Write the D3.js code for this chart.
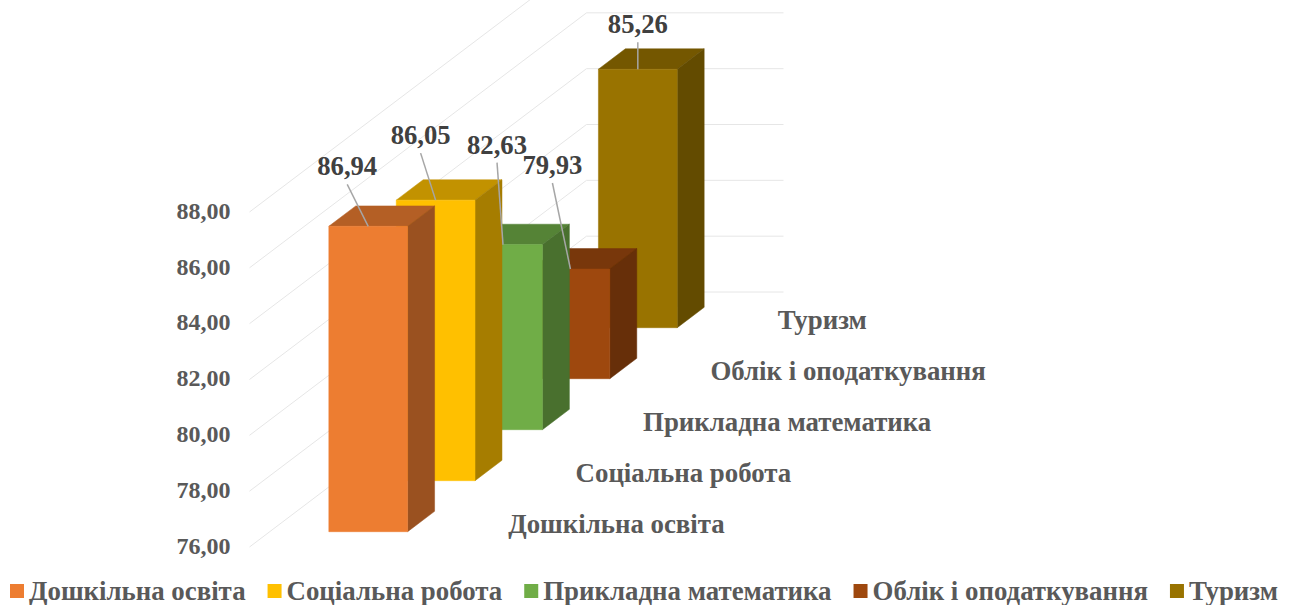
<!DOCTYPE html>
<html>
<head>
<meta charset="utf-8">
<style>
    html, body { margin: 0; background: #fff; overflow: hidden; }
    svg { display: block; font-family: "Liberation Serif", serif; font-weight: bold; }
</style>
<script src="https://cdn.jsdelivr.net/npm/d3@7"></script>
</head>
<body>
<div id="svg-container"></div>
<script>
const categories = ['Дошкільна освіта', 'Соціальна робота', 'Прикладна математика', 'Облік і оподаткування', 'Туризм'];
const values = [86.94, 86.05, 82.63, 79.93, 85.26];
const colors = ['#ED7D31', '#FFC000', '#70AD47', '#9E480E', '#997300'];
const yTicks = [76, 78, 80, 82, 84, 86, 88];

const wSvg = 1289, hSvg = 605;
const xWall = 249.5, yFloor = 547, yTop = 212;
const wFloor = 197, dFloor = 255, slant = 337 / 255;

// hand placed data labels, relative to the middle of the bar's front top edge
const labelShift = [[-21, -42], [-15, -47], [-6, -82], [-18, -86], [0, -27]];

const yScale = d3.scaleLinear().domain([76, 88]).range([yFloor, yTop]);
const xScale = d3.scaleBand().domain(['all']).range([0, wFloor]).paddingInner(0).paddingOuter(.75);
const depthScale = d3.scaleBand().domain(categories).range([0, dFloor]).paddingInner(.6).paddingOuter(.3);
const comma = d3.formatLocale({ decimal: ',', thousands: ' ', grouping: [3], currency: ['', ''] }).format('.2f');

// floor depth -> screen offset
const px = (x, depth) => xWall + x + depth * slant;
const py = (y, depth) => y - depth;
const shade = (color, k) => {
    const c = d3.rgb(color);
    return d3.rgb(c.r * k, c.g * k, c.b * k).formatHex();
};
const poly = pts => 'M' + pts.map(p => p.join(',')).join('L') + 'Z';

let svg = d3.select('#svg-container')
    .append('svg')
    .attr('width', wSvg)
    .attr('height', hSvg);

//#region gridlines + y axis
svg.append('g').selectAll('path')
    .data(yTicks)
    .enter()
    .append('path')
    .attr('d', d => `M${px(0, 0)},${yScale(d)}L${px(0, dFloor)},${py(yScale(d), dFloor)}L${px(wFloor, dFloor)},${py(yScale(d), dFloor)}`)
    .attr('fill', 'none')
    .attr('stroke', '#E6E6E6')
    .attr('stroke-width', 1);

let yAx = svg.append('g')
    .attr('transform', `translate(${xWall}, -1.5)`)
    .call(d3.axisLeft(yScale).tickValues(yTicks).tickSize(0).tickPadding(19).tickFormat(comma));
yAx.select('.domain').remove();
yAx.selectAll('text')
    .attr('fill', '#595959')
    .style('font-family', '"Liberation Serif", serif')
    .style('font-weight', 'bold')
    .style('font-size', '24px');
//#endregion

//#region bars, back to front
const bars = categories.map((name, i) => ({ name, value: values[i], color: colors[i], i }));
const x0 = xScale('all'), x1 = x0 + xScale.bandwidth();

let gBars = svg.selectAll('.bar')
    .data(bars.slice().reverse())
    .enter()
    .append('g')
    .classed('bar', true);

gBars.each(function (d) {
    const g = d3.select(this);
    const d0 = depthScale(d.name), d1 = d0 + depthScale.bandwidth();
    const yT = yScale(d.value), yB = yScale(76);
    const faces = [
        { k: .76, pts: [[px(x0, d0), py(yT, d0)], [px(x1, d0), py(yT, d0)], [px(x1, d1), py(yT, d1)], [px(x0, d1), py(yT, d1)]] },
        { k: .65, pts: [[px(x1, d0), py(yT, d0)], [px(x1, d1), py(yT, d1)], [px(x1, d1), py(yB, d1)], [px(x1, d0), py(yB, d0)]] },
        { k: 1, pts: [[px(x0, d0), py(yT, d0)], [px(x1, d0), py(yT, d0)], [px(x1, d0), py(yB, d0)], [px(x0, d0), py(yB, d0)]] }
    ];
    g.selectAll('path')
        .data(faces)
        .enter()
        .append('path')
        .attr('d', f => poly(f.pts))
        .attr('fill', f => shade(d.color, f.k))
        .attr('stroke', f => shade(d.color, f.k))
        .attr('stroke-width', .5);
});
//#endregion

//#region leader lines + data labels
const labelPos = d => {
    const d0 = depthScale(d.name);
    return [px((x0 + x1) / 2, d0), py(yScale(d.value), d0)];
};

svg.append('g').selectAll('line')
    .data(bars)
    .enter()
    .append('line')
    .attr('x1', d => labelPos(d)[0])
    .attr('y1', d => labelPos(d)[1])
    .attr('x2', d => labelPos(d)[0] + labelShift[d.i][0])
    .attr('y2', d => labelPos(d)[1] + labelShift[d.i][1])
    .attr('stroke', '#A6A6A6')
    .attr('stroke-width', 1.5);

svg.append('g').selectAll('text')
    .data(bars)
    .enter()
    .append('text')
    .attr('x', d => labelPos(d)[0] + labelShift[d.i][0])
    .attr('y', d => labelPos(d)[1] + labelShift[d.i][1] - 9)
    .attr('text-anchor', 'middle')
    .attr('fill', '#404040')
    .style('font-size', '26.67px')
    .text(d => comma(d.value));
//#endregion

//#region category labels on the floor edge
svg.append('g').selectAll('text')
    .data(bars)
    .enter()
    .append('text')
    .attr('x', d => px(wFloor, depthScale(d.name) + depthScale.bandwidth() / 2) + 28)
    .attr('y', d => py(yFloor, depthScale(d.name) + depthScale.bandwidth() / 2) + 11)
    .attr('fill', '#595959')
    .style('font-size', '26.85px')
    .text(d => d.name);
//#endregion

//#region legend
let xLegend = 10;
bars.forEach(d => {
    let item = svg.append('g').attr('transform', `translate(${xLegend}, 584)`);
    item.append('rect')
        .attr('width', 14)
        .attr('height', 14)
        .attr('fill', d.color);
    let label = item.append('text')
        .attr('x', 19)
        .attr('y', 16)
        .attr('fill', '#595959')
        .style('font-size', '26.85px')
        .text(d.name);
    xLegend += 19 + label.node().getComputedTextLength() + 22;
});
//#endregion
</script>
</body>
</html>
